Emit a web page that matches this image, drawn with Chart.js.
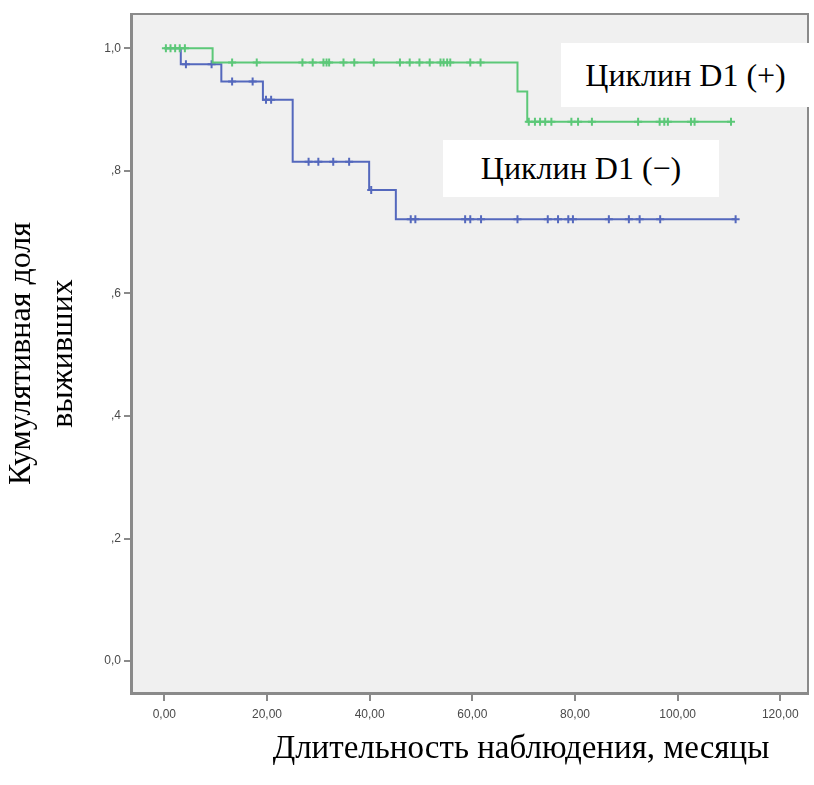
<!DOCTYPE html>
<html>
<head>
<meta charset="utf-8">
<title>Kaplan-Meier: Циклин D1</title>
<script src="https://cdn.jsdelivr.net/npm/chart.js@4.4.0/dist/chart.umd.min.js"></script>
<style>
  body { margin: 0; background: #fff; }
  #wrap { position: relative; width: 814px; height: 785px; }
  .box {
    position: absolute; background: #fff; color: #000;
    font-family: 'Liberation Serif', 'Times New Roman', serif; font-size: 32px;
    display: flex; align-items: center; justify-content: center; white-space: nowrap;
  }
  #xtitle {
    position: absolute; left: 221px; width: 600px; top: 727px; height: 40px; line-height: 40px;
    text-align: center; color: #000; white-space: nowrap;
    font-family: 'Liberation Serif', 'Times New Roman', serif; font-size: 33px;
  }
</style>
</head>
<body>
<div id="wrap">
  <canvas id="kmchart"></canvas>
  <div class="box" style="left:561px; top:43px; width:249px; height:64px;">Циклин D1 (+)</div>
  <div class="box" style="left:443px; top:140px; width:276px; height:57px;">Циклин D1 (−)</div>
  <div id="xtitle">Длительность наблюдения, месяцы</div>
</div>
<script>
////////////////////////////DATA
const xTicks = [0, 20, 40, 60, 80, 100, 120];
const xTickLabels = ['0,00', '20,00', '40,00', '60,00', '80,00', '100,00', '120,00'];
const yTicks = [0, 0.2, 0.4, 0.6, 0.8, 1.0];
const yTickLabels = ['0,0', ',2', ',4', ',6', ',8', '1,0'];

// Циклин D1 (+): step times and survival after each step
const posTimes = [0, 9.4, 68.8, 70.7, 110.6];
const posSurv = [1.0, 0.977, 0.9295, 0.880, 0.880];
// censored observations (months)
const posCensored = [0.3, 1.2, 2.1, 3.0, 4.0,
    13.2, 18.0, 26.9, 28.9, 31.0, 31.6, 32.1, 34.9, 37.0, 40.8, 45.9, 47.8, 49.7, 51.7,
    53.8, 54.4, 55.1, 55.7, 59.6, 61.6,
    71.0, 72.2, 73.2, 74.2, 75.4, 79.3, 80.6, 83.3, 92.3, 96.5, 97.4, 98.1, 102.6, 103.3, 110.4];

// Циклин D1 (−)
const negTimes = [0, 3.2, 11.1, 19.2, 25.0, 39.9, 45.1, 111.3];
const negSurv = [1.0, 0.974, 0.946, 0.916, 0.815, 0.769, 0.721, 0.721];
const negCensored = [4.2, 9.2, 13.2, 17.2, 19.8, 20.8, 28.1, 30.0, 32.9, 36.0, 40.3,
    48.0, 48.9, 58.6, 59.6, 61.7, 68.8, 74.7, 76.7, 78.7, 79.6, 86.6, 90.5, 92.6, 96.6, 111.3];

const greenColor = '#5cc878';
const blueColor = '#5468bd';

// survival value of the step curve at time t
function survAt(times, surv, t) {
    let s = surv[0];
    for (let i = 0; i < times.length; i++) {
        if (times[i] <= t) s = surv[i];
    }
    return s;
}

function stepPoints(times, surv) {
    return times.map((t, i) => ({ x: t, y: surv[i] }));
}

function censorPoints(times, surv, cens) {
    return cens.map(t => ({ x: t, y: survAt(times, surv, t) }));
}

// plot background and the thin frame on top / right
const plotFrame = {
    id: 'plotFrame',
    beforeDraw(chart) {
        const { ctx, chartArea: a } = chart;
        ctx.save();
        ctx.fillStyle = '#f0f0f0';
        ctx.fillRect(a.left, a.top, a.right - a.left, a.bottom - a.top);
        ctx.restore();
    },
    afterDraw(chart) {
        const { ctx, chartArea: a } = chart;
        ctx.save();
        ctx.strokeStyle = '#8a8a8a';
        ctx.lineWidth = 2;
        ctx.beginPath();
        ctx.moveTo(a.left, a.top);
        ctx.lineTo(a.right, a.top);
        ctx.lineTo(a.right, a.bottom);
        ctx.stroke();
        ctx.restore();
    }
};

const tickFont = { family: "'Liberation Sans', Arial, sans-serif", size: 12 };

const ctx = document.getElementById('kmchart').getContext('2d');

new Chart(ctx, {
    type: 'line',
    data: {
        datasets: [
            {
                label: 'Циклин D1 (+) цензур.',
                data: censorPoints(posTimes, posSurv, posCensored),
                showLine: false,
                pointStyle: 'cross',
                pointRadius: 4,
                pointBorderWidth: 2,
                borderColor: greenColor,
                order: 0
            },
            {
                label: 'Циклин D1 (+)',
                data: stepPoints(posTimes, posSurv),
                stepped: 'before',
                borderColor: greenColor,
                borderWidth: 2,
                pointRadius: 0,
                fill: false,
                order: 1
            },
            {
                label: 'Циклин D1 (−) цензур.',
                data: censorPoints(negTimes, negSurv, negCensored),
                showLine: false,
                pointStyle: 'cross',
                pointRadius: 4,
                pointBorderWidth: 2,
                borderColor: blueColor,
                order: 2
            },
            {
                label: 'Циклин D1 (−)',
                data: stepPoints(negTimes, negSurv),
                stepped: 'before',
                borderColor: blueColor,
                borderWidth: 2,
                pointRadius: 0,
                fill: false,
                order: 3
            }
        ]
    },
    options: {
        responsive: true,
        maintainAspectRatio: false,
        animation: false,
        layout: { padding: { top: 14, right: 3, left: 0, bottom: 0 } },
        plugins: {
            legend: { display: false },
            tooltip: { enabled: false }
        },
        scales: {
            x: {
                type: 'linear',
                min: -6.5,
                max: 125.4,
                afterBuildTicks: scale => { scale.ticks = xTicks.map(v => ({ value: v })); },
                afterFit: scale => { scale.height = 92; },
                ticks: {
                    autoSkip: false,
                    maxRotation: 0,
                    padding: 6,
                    color: '#4a4a4a',
                    font: tickFont,
                    callback: (value, index) => xTickLabels[index]
                },
                grid: { drawOnChartArea: false, tickLength: 8, color: '#8a8a8a', lineWidth: 2 },
                border: { display: true, color: '#8a8a8a', width: 3 }
            },
            y: {
                type: 'linear',
                min: -0.052,
                max: 1.056,
                afterBuildTicks: scale => { scale.ticks = yTicks.map(v => ({ value: v })); },
                afterFit: scale => { scale.width = 131; },
                ticks: {
                    padding: 3,
                    color: '#4a4a4a',
                    font: tickFont,
                    callback: (value, index) => yTickLabels[index]
                },
                grid: { drawOnChartArea: false, tickLength: 7, color: '#8a8a8a', lineWidth: 2 },
                border: { display: true, color: '#8a8a8a', width: 3 },
                title: {
                    display: true,
                    text: ['Кумулятивная доля', 'выживших'],
                    color: '#000',
                    font: { family: "'Liberation Serif', 'Times New Roman', serif", size: 32, lineHeight: 1.3 },
                    padding: { top: 1, bottom: 0 }
                }
            }
        }
    },
    plugins: [plotFrame]
});
</script>
</body>
</html>
